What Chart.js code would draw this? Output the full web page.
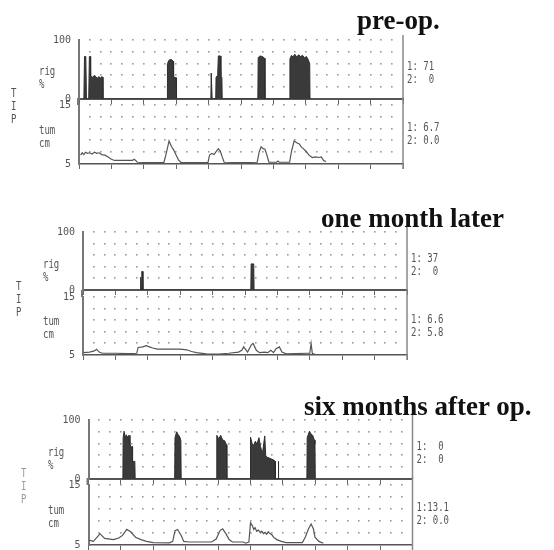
<!DOCTYPE html>
<html>
<head>
<meta charset="utf-8">
<script src="https://cdn.jsdelivr.net/npm/chart.js@4.4.1/dist/chart.umd.min.js"></script>
<style>
html, body { margin: 0; padding: 0; background: #fff; overflow: hidden; }
body { width: 554px; height: 550px; position: relative; }
canvas { position: absolute; left: 0; }
.title { position: absolute; font: bold 27px "Liberation Serif", "Times New Roman", serif; line-height: 27px; color: #111; white-space: nowrap; }
.lbl { position: absolute; font: 9px "DejaVu Sans Mono", monospace; line-height: 9px; color: #555; white-space: pre; transform: scaleY(1.45); transform-origin: 0 0; }
</style>
</head>
<body>
<script>
// x runs over the recording, one unit per major tick (10 ticks)
const rigTicks = [0, 100];
const tumTicks = [5, 15];
const rigRows = [20, 40, 60, 80, 100];
const tumRows = [7, 9, 11, 13, 15];

const titles = ['pre-op.', 'one month later', 'six months after op.'];
const tipValues = [['71', '0'], ['37', '0'], ['0', '0']];
const baseValues = [['6.7', '0.0'], ['6.6', '5.8'], ['13.1', '0.0']];

// rigidity %, [x, value]
const preRig = [
  [0.15,0],[0.17,72],[0.21,72],[0.23,0],[0.30,0],[0.32,72],[0.35,72],[0.36,38],[0.42,37],[0.47,40],[0.52,38],
  [0.56,35],[0.62,38],[0.66,35],[0.70,38],[0.73,37],[0.74,0],
  [2.72,0],[2.73,60],[2.78,66],[2.85,67],[2.91,64],[2.92,37],[3.0,36],[3.01,0],
  [4.07,0],[4.08,44],[4.10,44],[4.11,0],[4.22,0],[4.23,37],[4.28,40],[4.30,73],[4.36,73],[4.38,38],[4.41,37],[4.42,0],
  [5.52,0],[5.53,70],[5.58,73],[5.66,72],[5.73,69],[5.74,0],
  [6.50,0],[6.51,68],[6.56,74],[6.60,71],[6.66,76],[6.72,71],[6.78,75],[6.84,72],[6.90,74],[6.96,70],[7.02,72],[7.08,66],[7.12,60],[7.13,0]
];
const monthRig = [
  [1.76,0],[1.77,22],[1.79,22],[1.80,0],[1.81,0],[1.82,32],[1.84,32],[1.85,0],
  [5.18,0],[5.19,45],[5.27,45],[5.28,0]
];
const sixRig = [
  [1.06,0],[1.07,70],[1.10,81],[1.13,68],[1.16,75],[1.20,71],[1.25,74],[1.28,60],[1.31,54],[1.35,55],[1.36,29],[1.43,30],[1.44,0],
  [2.66,0],[2.67,70],[2.72,80],[2.77,75],[2.82,71],[2.85,65],[2.86,0],
  [3.95,0],[3.96,74],[4.02,68],[4.08,74],[4.14,66],[4.20,65],[4.26,58],[4.27,0],
  [4.99,0],[5.0,71],[5.05,60],[5.1,57],[5.15,64],[5.2,59],[5.26,70],[5.31,55],[5.35,46],[5.38,48],[5.44,73],[5.47,40],
  [5.5,37],[5.6,35],[5.72,32],[5.76,30],[5.77,0],[5.85,0],[5.86,30],[5.87,0],
  [6.74,0],[6.75,70],[6.82,81],[6.87,76],[6.92,74],[6.97,66],[6.99,60],[7.0,0]
];

// tumescence cm, [x, value]
const preTum = [
  [0.05,6.5],[0.1,6.9],[0.15,6.6],[0.2,7.0],[0.26,6.8],[0.32,6.9],[0.4,6.7],[0.48,7.0],[0.55,6.8],[0.62,6.9],[0.7,6.6],
  [0.8,6.5],[0.9,6.2],[1.0,5.8],[1.1,5.6],[1.3,5.6],[1.5,5.6],[1.65,5.6],[1.7,5.8],[1.75,5.6],[1.8,5.3],[2.2,5.25],
  [2.62,5.25],[2.68,6.5],[2.78,8.9],[2.85,8.0],[2.92,7.4],[3.0,6.5],[3.07,5.7],[3.15,5.25],[3.98,5.25],[4.03,6.5],
  [4.1,6.8],[4.17,6.6],[4.22,7.0],[4.3,7.6],[4.36,7.2],[4.42,6.2],[4.48,5.3],[5.1,5.25],[5.5,5.3],[5.56,7.0],[5.62,7.9],
  [5.68,7.6],[5.74,7.5],[5.8,6.5],[5.86,5.3],[6.1,5.3],[6.14,5.5],[6.18,5.3],[6.5,5.3],[6.56,7.2],[6.64,8.9],[6.72,8.6],
  [6.8,8.4],[6.86,7.9],[6.92,7.6],[7.0,7.2],[7.1,6.5],[7.2,6.1],[7.3,6.2],[7.4,6.1],[7.48,6.2],[7.55,5.6],[7.62,5.4]
];
const monthTum = [
  [0.02,5.4],[0.2,5.5],[0.35,5.7],[0.42,6.0],[0.5,5.5],[0.6,5.3],[1.0,5.3],[1.4,5.25],[1.66,5.3],[1.7,6.3],[1.85,6.4],
  [1.95,6.6],[2.05,6.4],[2.15,6.2],[2.3,6.0],[2.7,6.0],[3.0,6.0],[3.2,5.9],[3.35,5.6],[3.5,5.4],[3.8,5.2],[4.2,5.15],
  [4.5,5.3],[4.8,5.5],[4.9,5.8],[4.96,6.4],[5.08,5.5],[5.2,6.8],[5.25,7.0],[5.35,5.8],[5.45,5.4],[5.6,5.5],[5.7,5.4],
  [5.8,5.8],[5.88,5.4],[5.96,6.1],[6.06,6.4],[6.14,5.5],[6.27,5.2],[6.9,5.3],[7.0,5.3],[7.04,7.0],[7.08,5.2],[7.15,5.2]
];
const sixTum = [
  [0.02,5.8],[0.15,5.6],[0.3,6.5],[0.35,6.9],[0.5,6.1],[0.77,5.9],[0.95,6.2],[1.05,6.6],[1.18,7.6],[1.3,7.2],[1.45,6.3],
  [1.62,5.9],[1.79,5.6],[2.0,5.4],[2.5,5.35],[2.6,5.6],[2.67,7.4],[2.75,7.6],[2.86,6.6],[2.94,5.6],[3.1,5.5],[3.8,5.5],
  [3.94,6.0],[4.06,7.4],[4.14,7.7],[4.24,6.9],[4.34,5.9],[4.44,5.5],[4.78,5.5],[4.85,5.3],[4.95,5.5],[5.0,8.7],[5.06,8.2],
  [5.1,7.6],[5.14,7.9],[5.19,7.3],[5.24,7.5],[5.3,7.1],[5.35,7.3],[5.4,6.9],[5.45,7.1],[5.5,6.8],[5.55,7.2],[5.6,6.9],
  [5.66,6.7],[5.71,6.3],[5.81,5.9],[5.95,5.6],[6.1,5.4],[6.6,5.4],[6.69,6.3],[6.79,7.7],[6.87,8.5],[6.94,7.7],[6.99,6.3],
  [7.11,5.6],[7.25,5.3]
];

const rigSeries = [preRig, monthRig, sixRig];
const tumSeries = [preTum, monthTum, sixTum];

// page layout of the three panels
const panels = [
  { left: 79, right: 403, rigTop: 39.5, rigBase: 98.5, tumTop: 105, tumBase: 164, titleX: 357, titleY: 7, tipX: 11, tipY: 87, sideX: 39, tipColor: '#555' },
  { left: 83, right: 407, rigTop: 232, rigBase: 290, tumTop: 297, tumBase: 354.5, titleX: 321, titleY: 205, tipX: 16, tipY: 280, sideX: 43, tipColor: '#555' },
  { left: 88.5, right: 412.5, rigTop: 420, rigBase: 478.5, tumTop: 485, tumBase: 544.5, titleX: 304, titleY: 393, tipX: 21, tipY: 467, sideX: 48, tipColor: '#999' }
];

const dotGrid = {
  id: 'dotGrid',
  beforeDatasetsDraw(chart, args, opts) {
    const { ctx, chartArea: a, scales: { x, y } } = chart;
    ctx.save();
    ctx.fillStyle = '#9a9a9a';
    for (let k = 1; k < 30; k++) {
      const px = Math.round(x.getPixelForValue(k / 3));
      for (const v of opts.rows) {
        const py = Math.round(y.getPixelForValue(v));
        ctx.fillRect(px - 1, py - 1, 1.6, 1.6);
      }
    }
    ctx.strokeStyle = '#888';
    ctx.lineWidth = 1.5;
    ctx.beginPath();
    ctx.moveTo(a.right, a.top - opts.extTop);
    ctx.lineTo(a.right, a.bottom + opts.extBottom);
    ctx.stroke();
    if (opts.joinLeft) {
      ctx.strokeStyle = '#777';
      ctx.lineWidth = 2;
      ctx.beginPath();
      ctx.moveTo(a.left - 1, a.top - opts.joinLeft);
      ctx.lineTo(a.left - 1, a.top);
      ctx.stroke();
    }
    ctx.restore();
  }
};

function addLabel(text, x, y, cls, color) {
  const d = document.createElement('div');
  d.className = cls;
  d.textContent = text;
  d.style.left = x + 'px';
  d.style.top = y + 'px';
  if (color) d.style.color = color;
  document.body.appendChild(d);
}

function subChart(p, top, base, min, max, tickVals, rows, data, isRig, ext) {
  const cv = document.createElement('canvas');
  const h = Math.round(base - top + 20);
  cv.width = 554;
  cv.height = h;
  cv.style.top = (top - 10) + 'px';
  document.body.appendChild(cv);
  new Chart(cv, {
    type: 'line',
    data: {
      datasets: [{
        data: data.map(([x, y]) => ({ x, y })),
        borderColor: isRig ? '#2e2e2e' : '#555',
        backgroundColor: '#3a3a3a',
        borderWidth: isRig ? 1 : 1.2,
        fill: isRig ? 'origin' : false,
        pointRadius: 0,
        tension: 0
      }]
    },
    options: {
      responsive: false,
      animation: false,
      events: [],
      layout: { padding: { left: p.left - 34, right: 554 - p.right, top: 10, bottom: 2 } },
      plugins: {
        legend: { display: false },
        tooltip: { enabled: false },
        dotGrid: { rows, extTop: ext.top, extBottom: ext.bottom, joinLeft: ext.join }
      },
      scales: {
        x: {
          type: 'linear', min: 0, max: 10,
          afterFit: s => { s.height = 8; },
          ticks: { display: false, stepSize: 1 },
          grid: { drawOnChartArea: false, drawTicks: true, tickLength: 5, color: '#666', tickColor: '#666' },
          border: { color: '#555', width: isRig ? 2 : 1.5 }
        },
        y: {
          type: 'linear', min, max,
          afterFit: s => { s.width = 34; },
          afterBuildTicks: s => { s.ticks = tickVals.map(v => ({ value: v })); },
          ticks: { font: { family: 'DejaVu Sans Mono', size: 10 }, color: '#555', padding: 0 },
          grid: { display: false },
          border: { display: true, color: '#777', width: 2 }
        }
      }
    },
    plugins: [dotGrid]
  });
}

panels.forEach((p, i) => {
  subChart(p, p.rigTop, p.rigBase, 0, 100, rigTicks, rigRows, rigSeries[i], true, { top: 5, bottom: 0, join: 0 });
  subChart(p, p.tumTop, p.tumBase, 5, 15, tumTicks, tumRows, tumSeries[i], false, { top: 8, bottom: 5, join: 7 });

  addLabel(titles[i], p.titleX, p.titleY, 'title');

  const rigH = p.rigBase - p.rigTop, tumH = p.tumBase - p.tumTop;
  addLabel('rig\n%', p.sideX, p.rigTop + rigH * 0.44, 'lbl');
  addLabel('tum\ncm', p.sideX, p.tumTop + tumH * 0.32, 'lbl');
  addLabel('T\nI\nP', p.tipX, p.tipY, 'lbl', p.tipColor);

  const t = tipValues[i], b = baseValues[i];
  addLabel('1: ' + t[0].padStart(2) + '\n2: ' + t[1].padStart(2), p.right + 4, p.rigTop + rigH * 0.34, 'lbl');
  addLabel('1:' + b[0].padStart(4) + '\n2:' + b[1].padStart(4), p.right + 4, p.tumTop + tumH * 0.27, 'lbl');
});
</script>
</body>
</html>
